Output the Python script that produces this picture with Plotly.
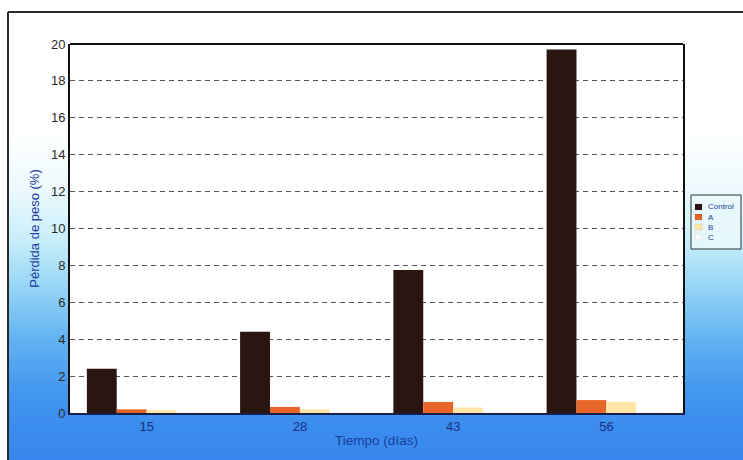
import plotly.graph_objects as go

# ---- data ----
dias = ["15", "28", "43", "56"]
series_names = ["Control", "A", "B", "C"]
control = [2.4, 4.4, 7.75, 19.7]
trat_a = [0.2, 0.33, 0.6, 0.7]
trat_b = [0.15, 0.2, 0.3, 0.6]
trat_c = [0.1, 0.1, 0.1, 0.1]
series_values = [control, trat_a, trat_b, trat_c]
series_colors = ["#2a1510", "#e8652a", "#fde6a6", "#f7fbff"]
y_ticks = [0, 2, 4, 6, 8, 10, 12, 14, 16, 18, 20]

W, H = 743, 460
L, R, T, B = 70, 683, 44, 413  # plot area in px


def px_x(x):
    return (x - L) / (R - L)


def px_y(y):
    return (B - y) / (B - T)


fig = go.Figure()
for name, vals, col in zip(series_names, series_values, series_colors):
    fig.add_trace(go.Bar(x=dias, y=vals, name=name, marker_color=col,
                         marker_line_width=0, showlegend=False))

shapes = []
# background gradient (white -> blue)
stops = [(0, (255, 255, 255)), (130, (255, 255, 255)), (190, (236, 249, 253)),
         (240, (200, 238, 250)), (290, (147, 211, 246)), (340, (98, 178, 241)),
         (390, (68, 151, 239)), (430, (58, 139, 239)), (460, (57, 135, 238))]


def col_at(y):
    for (y0, c0), (y1, c1) in zip(stops[:-1], stops[1:]):
        if y0 <= y <= y1:
            t = (y - y0) / (y1 - y0)
            c = [round(a + (b - a) * t) for a, b in zip(c0, c1)]
            return "rgb(%d,%d,%d)" % tuple(c)
    return "rgb(57,135,238)"


step = 3
y = 12
while y < H:
    shapes.append(dict(type="rect", xref="paper", yref="paper",
                       x0=px_x(8), x1=px_x(W + 2), y0=px_y(min(y + step + 0.5, H + 2)), y1=px_y(y),
                       fillcolor=col_at(y + step / 2), line_width=0, layer="below"))
    y += step
# white plot area
shapes.append(dict(type="rect", xref="paper", yref="paper", x0=0, x1=1, y0=0, y1=1,
                   fillcolor="white", line_width=0, layer="below"))
# outer frame
shapes.append(dict(type="line", xref="paper", yref="paper", x0=px_x(8), x1=px_x(W + 2),
                   y0=px_y(12), y1=px_y(12), line=dict(color="#2a2a2a", width=2)))
shapes.append(dict(type="line", xref="paper", yref="paper", x0=px_x(8), x1=px_x(8),
                   y0=px_y(12), y1=px_y(H + 2), line=dict(color="#2a2a2a", width=2)))

# manual legend box
shapes.append(dict(type="rect", xref="paper", yref="paper", x0=px_x(691), x1=px_x(741),
                   y0=px_y(249), y1=px_y(195), fillcolor="rgba(232,248,252,0.9)",
                   line=dict(color="#333333", width=1)))
annotations = []
for i, (name, col) in enumerate(zip(series_names, series_colors)):
    yc = 207 + i * 10
    shapes.append(dict(type="rect", xref="paper", yref="paper", x0=px_x(695), x1=px_x(702),
                       y0=px_y(yc + 3), y1=px_y(yc - 3), fillcolor=col,
                       line=dict(color="rgba(0,0,0,0.15)", width=0.5)))
    annotations.append(dict(xref="paper", yref="paper", x=px_x(706), y=px_y(yc),
                            xanchor="left", yanchor="middle", text=name, showarrow=False,
                            font=dict(size=8, color="#1f3c8f")))

fig.update_layout(
    width=W, height=H,
    margin=dict(l=L, r=W - R, t=T, b=H - B),
    paper_bgcolor="white", plot_bgcolor="white",
    barmode="group", bargap=0.22, bargroupgap=0,
    font=dict(family="Liberation Sans, Arial, sans-serif"),
    shapes=shapes, annotations=annotations,
    xaxis=dict(type="category", showline=True, linecolor="#14204a", linewidth=2,
               mirror=False, layer="below traces", showgrid=False, ticks="",
               tickfont=dict(size=13, color="#1b2f80"),
               title=dict(text="Tiempo (días)", font=dict(size=13.5, color="#1b3c9c"), standoff=3)),
    yaxis=dict(range=[0, 20], tickvals=y_ticks, showline=True, linecolor="#111111",
               linewidth=2, mirror=True, showgrid=True, gridcolor="#555555", gridwidth=1,
               griddash="5px,4px", zeroline=False, ticks="",
               tickfont=dict(size=13, color="#2a2a2a"),
               title=dict(text="Pérdida de peso (%)", font=dict(size=13, color="#1b3c9c"), standoff=8)),
)
# top frame line of the plot area in black
fig.add_shape(type="line", xref="paper", yref="paper", x0=0, x1=1, y0=1, y1=1,
              line=dict(color="#111111", width=2))

fig.write_html("out.html")
